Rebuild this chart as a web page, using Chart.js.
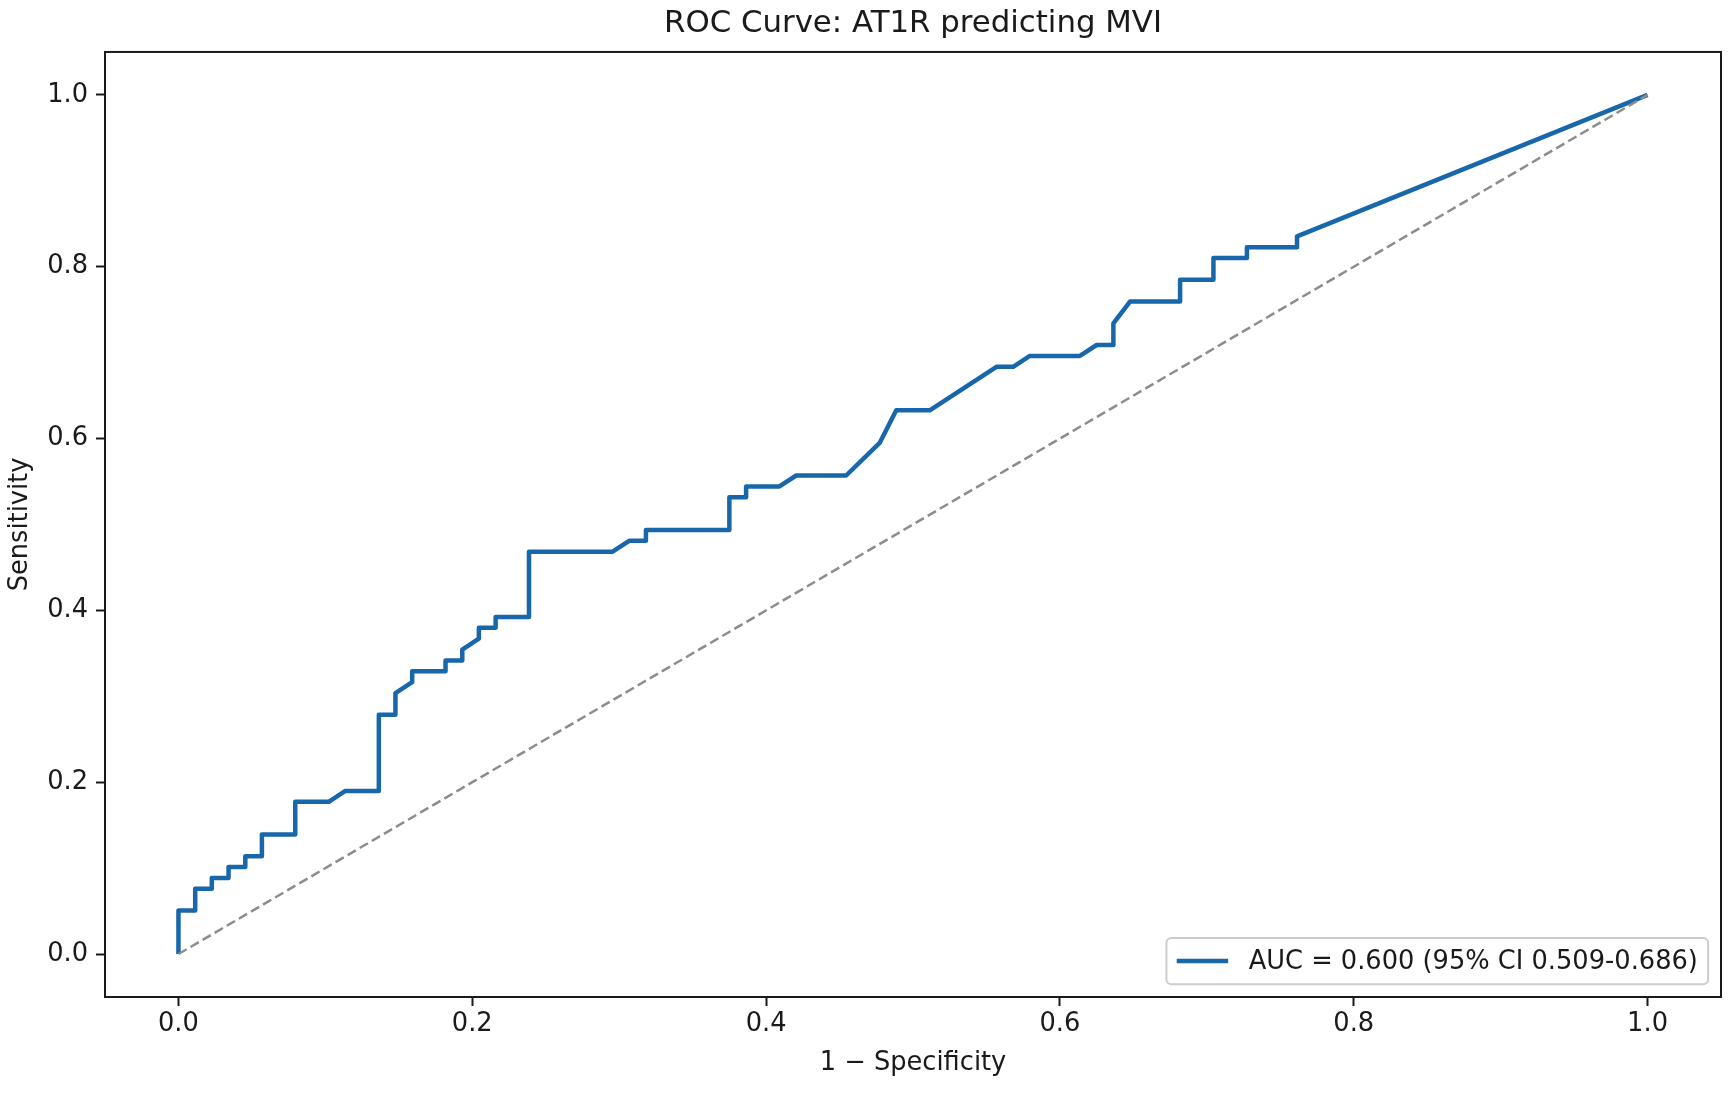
<!DOCTYPE html>
<html><head><meta charset="utf-8">
<script src="https://cdn.jsdelivr.net/npm/chart.js@4/dist/chart.umd.min.js"></script>
<style>html,body{margin:0;padding:0;background:#fff;}#wrap{width:1732px;height:1093px;position:relative;}</style>
</head><body><div id="wrap"><canvas id="c"></canvas></div>
<script>
// ---- data ----
const chartTitle = 'ROC Curve: AT1R predicting MVI';
const xAxisTitle = '1 \u2212 Specificity';
const yAxisTitle = 'Sensitivity';
const legendLabel = 'AUC = 0.600 (95% CI 0.509-0.686)';
const fpr = [0, 0, 0.0114, 0.0114, 0.0227, 0.0227, 0.0341, 0.0341, 0.0455, 0.0455, 0.0568, 0.0568,
  0.0795, 0.0795, 0.1023, 0.1136, 0.1364, 0.1364, 0.1477, 0.1477, 0.1591, 0.1591, 0.1818, 0.1818,
  0.1932, 0.1932, 0.2045, 0.2045, 0.2159, 0.2159, 0.2386, 0.2386, 0.2955, 0.3068, 0.3182, 0.3182,
  0.3750, 0.3750, 0.3864, 0.3864, 0.4091, 0.4205, 0.4545, 0.4773, 0.4886, 0.5114, 0.5568, 0.5682,
  0.5795, 0.6136, 0.6250, 0.6364, 0.6364, 0.6477, 0.6818, 0.6818, 0.7045, 0.7045, 0.7273, 0.7273,
  0.7614, 0.7614, 1.0];
const tpr = [0, 0.0506, 0.0506, 0.0759, 0.0759, 0.0886, 0.0886, 0.1013, 0.1013, 0.1139, 0.1139, 0.1392,
  0.1392, 0.1772, 0.1772, 0.1899, 0.1899, 0.2785, 0.2785, 0.3038, 0.3165, 0.3291, 0.3291, 0.3418,
  0.3418, 0.3544, 0.3671, 0.3797, 0.3797, 0.3924, 0.3924, 0.4684, 0.4684, 0.4810, 0.4810, 0.4937,
  0.4937, 0.5316, 0.5316, 0.5443, 0.5443, 0.5570, 0.5570, 0.5949, 0.6329, 0.6329, 0.6835, 0.6835,
  0.6962, 0.6962, 0.7089, 0.7089, 0.7342, 0.7595, 0.7595, 0.7848, 0.7848, 0.8101, 0.8101, 0.8228,
  0.8228, 0.8354, 1.0];
const chanceX = [0, 1];
const chanceY = [0, 1];
const xTicks = [0.0, 0.2, 0.4, 0.6, 0.8, 1.0];
const yTicks = [0.0, 0.2, 0.4, 0.6, 0.8, 1.0];
const axisMin = -0.05, axisMax = 1.05;

// ---- style ----
const FONT = '"DejaVu Sans", "Liberation Sans", sans-serif';
const FS = 25.7;
const TXT = '#1a1a1a';
const BLUE = '#1767aa';

const framePlugin = {
  id: 'frame',
  afterDatasetsDraw(chart) {
    const {ctx, chartArea: a} = chart;
    ctx.save();
    ctx.strokeStyle = '#1a1a1a';
    ctx.lineWidth = 2;
    ctx.strokeRect(a.left, a.top, a.right - a.left, a.bottom - a.top);
    ctx.restore();
  }
};

const legendPlugin = {
  id: 'mplLegend',
  afterDraw(chart) {
    const {ctx, chartArea: a} = chart;
    const ds = chart.data.datasets[0];
    ctx.save();
    ctx.font = FS + 'px ' + FONT;
    const tw = ctx.measureText(ds.label).width;
    const pad = 0.4 * FS, handle = 2 * FS, htp = 0.8 * FS, axpad = 0.5 * FS;
    const w = pad + handle + htp + tw + pad;
    const h = 1.8 * FS;
    const x = a.right - axpad - w, y = a.bottom - axpad - h;
    ctx.beginPath();
    ctx.roundRect(x, y, w, h, 5);
    ctx.fillStyle = 'rgba(255,255,255,0.8)';
    ctx.fill();
    ctx.strokeStyle = '#cccccc';
    ctx.lineWidth = 2;
    ctx.stroke();
    const cy = y + h / 2;
    ctx.beginPath();
    ctx.moveTo(x + pad, cy);
    ctx.lineTo(x + pad + handle, cy);
    ctx.strokeStyle = ds.borderColor;
    ctx.lineWidth = ds.borderWidth;
    ctx.stroke();
    ctx.fillStyle = TXT;
    ctx.textBaseline = 'middle';
    ctx.textAlign = 'left';
    ctx.fillText(ds.label, x + pad + handle + htp, cy + 1);
    ctx.restore();
  }
};

function axisOpts(ticksArr, title, isX) {
  return {
    type: 'linear',
    min: axisMin, max: axisMax,
    afterBuildTicks: ax => { ax.ticks = ticksArr.map(v => ({value: v})); },
    afterFit: s => { if (isX) s.height = 96; else s.width = 105; },
    border: {display: false},
    grid: {display: true, drawOnChartArea: false, drawTicks: true, tickLength: 9, tickWidth: 2, tickColor: '#1a1a1a'},
    ticks: {
      color: TXT, padding: isX ? 3 : 8, maxRotation: 0, autoSkip: false,
      font: {family: FONT, size: FS},
      callback: v => Number(v).toFixed(1)
    },
    title: {
      display: true, text: title, color: TXT,
      font: {family: FONT, size: FS},
      padding: isX ? {top: 0, bottom: 14.6} : {top: 4.6, bottom: 0}
    }
  };
}

new Chart(document.getElementById('c'), {
  type: 'scatter',
  data: {
    datasets: [
      {
        label: legendLabel,
        data: fpr.map((x, i) => ({x: x, y: tpr[i]})),
        showLine: true, borderColor: BLUE, backgroundColor: BLUE,
        borderWidth: 4.5, pointRadius: 0, tension: 0,
        borderJoinStyle: 'round', order: 2
      },
      {
        label: 'chance',
        data: chanceX.map((x, i) => ({x: x, y: chanceY[i]})),
        showLine: true, borderColor: '#8c8c8c', borderWidth: 2.5,
        borderDash: [9.5, 4.5], pointRadius: 0, order: 1
      }
    ]
  },
  options: {
    responsive: true, maintainAspectRatio: false, animation: false,
    devicePixelRatio: 1,
    layout: {padding: {left: 0, right: 11, top: 0, bottom: 0}},
    plugins: {
      legend: {display: false},
      tooltip: {enabled: false},
      title: {
        display: true, text: chartTitle, color: TXT, fullSize: false,
        font: {family: FONT, size: 30.8, weight: 'normal'},
        padding: {top: 6, bottom: 9}
      }
    },
    scales: {
      x: axisOpts(xTicks, xAxisTitle, true),
      y: axisOpts(yTicks, yAxisTitle, false)
    }
  },
  plugins: [framePlugin, legendPlugin]
});
</script>
</body></html>
